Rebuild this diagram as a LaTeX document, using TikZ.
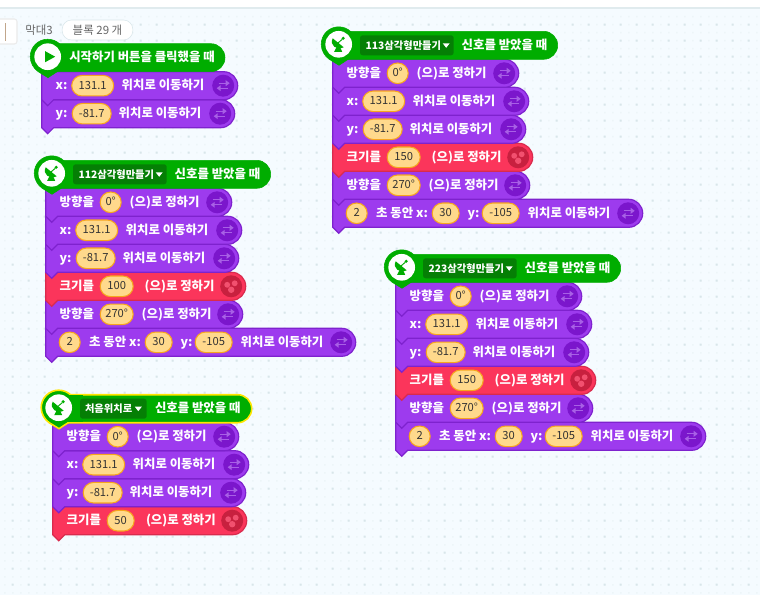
\documentclass[tikz,border=0pt]{standalone}
\usepackage{fontspec}
\newfontfamily\kr{Noto Sans CJK KR}
\definecolor{bgc}{HTML}{F5FBFF}
\definecolor{dotA}{HTML}{D8E6EA}
\definecolor{dotB}{HTML}{EDF5F8}
\definecolor{bpur}{HTML}{9D3BEE}
\definecolor{dpur}{HTML}{7E22CE}
\definecolor{ipur}{HTML}{7B16CC}
\definecolor{apur}{HTML}{A860E6}
\definecolor{bred}{HTML}{FB355B}
\definecolor{dred}{HTML}{D92B4D}
\definecolor{ired}{HTML}{C8203F}
\definecolor{ared}{HTML}{F2506F}
\definecolor{bgrn}{HTML}{00AD00}
\definecolor{dgrn}{HTML}{057F05}
\definecolor{pfil}{HTML}{FFD98C}
\definecolor{pstr}{HTML}{F7A51E}
\definecolor{yel}{HTML}{FFE600}
\tikzset{
  x=0.75pt,y=-0.75pt,
  wt/.style={anchor=west,inner sep=0pt,outer sep=0pt,text=white,font=\kr\bfseries\fontsize{9.3}{10}\selectfont,text height=7.5pt,text depth=1.5pt},
  ddt/.style={wt,font=\kr\bfseries\fontsize{7.7}{9}\selectfont},
  pl/.style={rectangle,rounded corners=7.7pt,draw=pstr,line width=0.8pt,fill=pfil,inner sep=0pt,minimum height=15.4pt,text=black!80,font=\kr\fontsize{8.4}{9}\selectfont,text height=6.5pt,text depth=1pt},
  gr/.style={anchor=west,inner sep=0pt,text=black!60,font=\kr\fontsize{8.6}{10}\selectfont},
}
\newcount\nid
\newcommand\tx[3]{\global\advance\nid 1\relax\node[wt] (n\the\nid) at (#1,#2) {#3};}
\newcommand\pil[4]{\global\advance\nid 1\relax\node[pl,minimum width=#3*0.75pt] (n\the\nid) at (#1,#2+14) {#4};}
% y, right end, fill, stroke
\newcommand\shp[4]{\path[fill=#3,draw=#4,line width=0.9pt] (0,#1) -- ({#2-14},#1) .. controls ({#2-6.3},#1) and (#2,{#1+6.3}) .. (#2,{#1+14}) .. controls (#2,{#1+21.7}) and ({#2-6.3},{#1+28}) .. ({#2-14},{#1+28}) -- (12,{#1+28}) -- (6,{#1+34}) -- (0,{#1+28}) -- cycle;}
\newcommand\swp[2]{\begin{scope}[shift={(#1,#2)}]
  \fill[ipur] (0,0) circle[radius=8.25pt];
  \draw[apur,line width=1pt] (-4.5,-2.5) -- (3,-2.5);
  \fill[apur] (6.5,-2.5) -- (2.5,-5.5) -- (2.5,0.5) -- cycle;
  \draw[apur,line width=1pt] (4.5,2.5) -- (-3,2.5);
  \fill[apur] (-6.5,2.5) -- (-2.5,-0.5) -- (-2.5,5.5) -- cycle;
\end{scope}}
\newcommand\dts[2]{\begin{scope}[shift={(#1,#2)}]
  \fill[ired] (0,0) circle[radius=8.25pt];
  \fill[ared] (-4,-1.5) circle[radius=2.2pt] (3.5,-3) circle[radius=2.2pt] (0,3.5) circle[radius=2.4pt];
\end{scope}}
\newcommand\purp[2]{\shp{#1}{#2}{bpur}{dpur}\swp{#2-14.5}{#1+14}}
\newcommand\redb[2]{\shp{#1}{#2}{bred}{dred}\dts{#2-14.5}{#1+14}}
% y R value cx w textx
\newcommand\dirb[6]{\purp{#1}{#2}\tx{14}{#1+14}{방향을}\pil{#4}{#1}{#5}{#3}\tx{#6}{#1+14}{(으)로 정하기}}
\newcommand\sizeb[6]{\redb{#1}{#2}\tx{14}{#1+14}{크기를}\pil{#4}{#1}{#5}{#3}\tx{#6}{#1+14}{(으)로 정하기}}
\newcommand\movx[1]{\purp{#1}{196}\tx{14}{#1+14}{x:}\pil{51}{#1}{42}{131.1}\tx{80}{#1+14}{위치로 이동하기}}
\newcommand\movy[1]{\purp{#1}{193}\tx{14}{#1+14}{y:}\pil{50}{#1}{39}{-81.7}\tx{77}{#1+14}{위치로 이동하기}}
\newcommand\glide[1]{\purp{#1}{310}\pil{24}{#1}{21}{2}\tx{43.5}{#1+14}{초 동안 x:}\pil{113}{#1}{27}{30}\tx{135}{#1+14}{y:}\pil{168}{#1}{37}{-105}\tx{195}{#1+14}{위치로 이동하기}}
% dish icon, centre
\newcommand\dish[3]{\begin{scope}[shift={(#1,#2)}]
  \fill[#3] (-6,-6) .. controls (-9.5,1) and (-2,6.5) .. (5,3) -- cycle;
  \fill[#3] (-2,2.5) -- (1.5,3) -- (3.5,7.5) -- (-4.5,7.5) -- cycle;
  \draw[#3,line width=0.7pt] (-0.5,-1.5) -- (3.5,-5);
  \fill[#3] (4.5,-6) circle[radius=1.3pt];
\end{scope}}
% hat: R, stroke colour, line width
\newcommand\hatblk[3]{%
  \path[fill=bgrn,draw=#2,line width=#3] (0,-28) -- ({#1-14},-28) .. controls ({#1-6.3},-28) and (#1,-21.7) .. (#1,-14) .. controls (#1,-6.3) and ({#1-6.3},0) .. ({#1-14},0) -- (0,0) -- cycle;
  \path[fill=bgrn,draw=#2,line width=#3] (-3.5,0) .. controls (-8,-3) and (-11.5,-9) .. (-11.5,-15) .. controls (-11.5,-24.7) and (-3.7,-32.5) .. (6,-32.5) .. controls (15.7,-32.5) and (23.5,-24.7) .. (23.5,-15) .. controls (23.5,-9) and (20,-3) .. (15.5,0) -- (6.3,6) -- cycle;
  \fill[bgrn] (12,-27.4) rectangle (30,-0.6);
  \fill[white] (6,-15) circle[radius=10pt];}
\newcommand\ddn[4]{% x2 textx label triangle-x
  \fill[dgrn,rounded corners=2pt] (27.3,-24) rectangle (#1,-4);
  \global\advance\nid 1\relax\node[ddt] (n\the\nid) at (#2,-14) {#3};
  \fill[white] ({#4-3.5},-16) -- ({#4+3.5},-16) -- (#4,-11.5) -- cycle;}
\newcommand\fullstack[3]{\begin{scope}[shift={(#1)}]
  \glide{140}
  \dirb{112}{197}{270°}{71}{33}{96}
  \sizeb{84}{200}{#3}{71}{33}{99}
  \movy{56}
  \movx{28}
  \dirb{0}{186}{0°}{65}{21}{84}
  \hatblk{225}{bgrn}{0.4pt}
  \dish{6}{-15}{bgrn}
  \ddn{121}{33}{#2}{113.5}
  \tx{129}{-14}{신호를 받았을 때}
\end{scope}}
\begin{document}
\begin{tikzpicture}
\useasboundingbox (0,0) rectangle (760,595);
\fill[bgc] (0,0) rectangle (760,595);
\fill[dotB] \foreach \xx in {4,12,...,756} {\foreach \yy in {16,24,...,592} {(\xx,\yy) rectangle ++(1.5,1.5)}};
\fill[dotA] \foreach \xx in {12,28,...,756} {\foreach \yy in {24,40,...,592} {(\xx-.3,\yy-.3) rectangle ++(2,2)}};
\fill[white] (0,0) rectangle (760,8);
\draw[color=dotA!80!white,line width=0.9pt] (0,8) -- (760,8);
% tab
\path[draw=black!8,fill=white,rounded corners=2pt,line width=0.8pt] (-3,19) rectangle (17,44);
\fill[brown!60!gray!70] (5,23) rectangle (6.2,41);
\node[gr] (tabname) at (25,30) {막대3};
\node[draw=dotA,fill=white,rounded corners=7pt,minimum width=53pt,minimum height=15pt,inner sep=0pt,text=black!60,font=\kr\fontsize{8.6}{10}\selectfont] (count) at (97.5,30) {블록 29 개};
% start group
\begin{scope}[shift={(41.7,71.7)}]
  \movy{28}
  \movx{0}
  \hatblk{183.3}{bgrn}{0.4pt}
  \fill[bgrn] (3.5,-20.5) -- (13.5,-15) -- (3.5,-9.5) -- cycle;
  \tx{27.6}{-14}{시작하기 버튼을 클릭했을 때}
\end{scope}
\fullstack{45.7,188.3}{112삼각형만들기}{100}
\fullstack{332.7,59.3}{113삼각형만들기}{150}
\fullstack{395.7,282.3}{223삼각형만들기}{150}
% first-position group
\begin{scope}[shift={(52.7,422.7)}]
  \sizeb{84}{194}{50}{68}{27}{93.3}
  \movy{56}
  \movx{28}
  \dirb{0}{186}{0°}{65}{21}{84}
  \hatblk{199}{yel}{1.2pt}
  \dish{6}{-15}{bgrn}
  \ddn{94}{32.3}{처음위치로}{85.6}
  \tx{102.3}{-14}{신호를 받았을 때}
\end{scope}
\end{tikzpicture}
\end{document}
